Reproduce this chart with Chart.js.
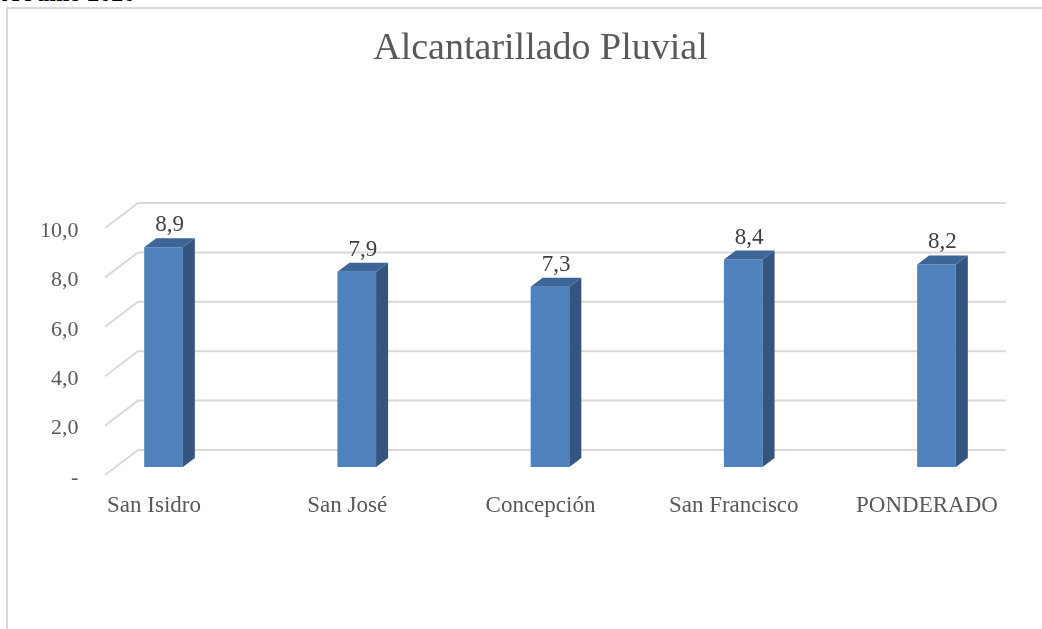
<!DOCTYPE html>
<html lang="es">
<head>
<meta charset="utf-8">
<title>Alcantarillado Pluvial</title>
<script src="https://cdn.jsdelivr.net/npm/chart.js@4.4.1/dist/chart.umd.min.js"></script>
<style>
    html, body { margin: 0; padding: 0; background: #fff; overflow: hidden; }
    #header {
        position: absolute; left: 2px; top: -19px;
        font: bold 24px "Liberation Serif", serif; line-height: 24px;
        color: #000; white-space: nowrap;
    }
    #frame {
        position: absolute; left: 6px; top: 7px;
        width: 1100px; height: 700px;
        border: 2px solid #d9d9d9;
    }
    #wrap { position: absolute; left: 0; top: 0; width: 1042px; height: 629px; }
</style>
</head>
<body>
<div id="header">A Junio 2020</div>
<div id="frame"></div>
<div id="wrap"><canvas id="pluvialChart"></canvas></div>
<script>
// Scores per sector
const categories = ['San Isidro', 'San José', 'Concepción', 'San Francisco', 'PONDERADO'];
const scores = [8.9, 7.9, 7.3, 8.4, 8.2];
const yTicks = [0, 2, 4, 6, 8, 10];

// Spanish number format, zero shown as a dash
const fmt = v => v === 0 ? '-' : v.toFixed(1).replace('.', ',');

// Fake 3D: floor/wall depth and bar depth
const FRONT_LIFT = 3;
const WALL = { x: 33, y: -25 };
const BAR_SHIFT = { x: 9.5, y: -11 };
const BAR_DEPTH = { x: 12, y: -9 };

const depthPlugin = {
    id: 'depth',
    beforeDatasetsDraw(chart) {
        const { ctx, chartArea: ca, scales: { y } } = chart;
        ctx.save();
        ctx.strokeStyle = '#d9d9d9';
        ctx.lineWidth = 2;
        y.ticks.forEach(t => {
            const py = y.getPixelForValue(t.value) - FRONT_LIFT;
            const x0 = ca.left + 47.6;
            ctx.beginPath();
            ctx.moveTo(x0, py);
            ctx.lineTo(x0 + WALL.x, py + WALL.y);
            ctx.lineTo(ca.right - 17.6, py + WALL.y);
            ctx.stroke();
        });
        ctx.restore();
        // bars sit a little behind the front edge
        ctx.save();
        ctx.translate(BAR_SHIFT.x, BAR_SHIFT.y);
    },
    afterDatasetsDraw(chart) {
        const { ctx } = chart;
        const dx = BAR_DEPTH.x, dy = BAR_DEPTH.y;
        chart.getDatasetMeta(0).data.forEach((bar, i) => {
            const l = bar.x - bar.width / 2;
            const r = bar.x + bar.width / 2;
            // side face
            ctx.fillStyle = '#33557f';
            ctx.beginPath();
            ctx.moveTo(r, bar.y);
            ctx.lineTo(r + dx, bar.y + dy);
            ctx.lineTo(r + dx, bar.base + dy);
            ctx.lineTo(r, bar.base);
            ctx.closePath();
            ctx.fill();
            // top face
            ctx.fillStyle = '#3c6598';
            ctx.beginPath();
            ctx.moveTo(l, bar.y);
            ctx.lineTo(l + dx, bar.y + dy);
            ctx.lineTo(r + dx, bar.y + dy);
            ctx.lineTo(r, bar.y);
            ctx.closePath();
            ctx.fill();
            // value label
            ctx.fillStyle = '#404040';
            ctx.font = '23px "Liberation Serif"';
            ctx.textAlign = 'center';
            ctx.textBaseline = 'alphabetic';
            ctx.fillText(fmt(scores[i]), bar.x + dx / 2, bar.y + dy - 7);
        });
        ctx.restore();
    }
};

new Chart(document.getElementById('pluvialChart').getContext('2d'), {
    type: 'bar',
    data: {
        labels: categories,
        datasets: [{
            data: scores,
            backgroundColor: '#4f81bd',
            categoryPercentage: 1,
            barPercentage: 0.2
        }]
    },
    options: {
        responsive: true,
        maintainAspectRatio: false,
        animation: false,
        layout: { padding: { left: 0, right: 18.4, top: 0, bottom: 107 } },
        plugins: {
            legend: { display: false },
            tooltip: { enabled: false },
            title: {
                display: true,
                fullSize: false,
                text: 'Alcantarillado Pluvial',
                color: '#595959',
                font: { family: 'Liberation Serif', size: 38, weight: 'normal' },
                padding: { top: 26, bottom: 159.4 }
            }
        },
        scales: {
            x: {
                offset: true,
                grid: { display: false, drawTicks: false },
                border: { display: false },
                afterFit: s => { s.height = 44; },
                ticks: {
                    padding: 14,
                    color: '#595959',
                    font: { family: 'Liberation Serif', size: 23 },
                    maxRotation: 0,
                    autoSkip: false
                }
            },
            y: {
                min: 0,
                max: 10,
                afterBuildTicks: s => { s.ticks = yTicks.map(v => ({ value: v })); },
                afterFit: s => { s.width = 57.4; },
                grid: { display: false, drawTicks: false },
                border: { display: false },
                ticks: {
                    // mirrored so the labels are not clipped to the narrow axis box
                    mirror: true,
                    crossAlign: 'far',
                    padding: -17.5,
                    color: '#595959',
                    font: { family: 'Liberation Serif', size: 22 },
                    callback: v => fmt(v)
                }
            }
        }
    },
    plugins: [depthPlugin]
});
</script>
</body>
</html>
